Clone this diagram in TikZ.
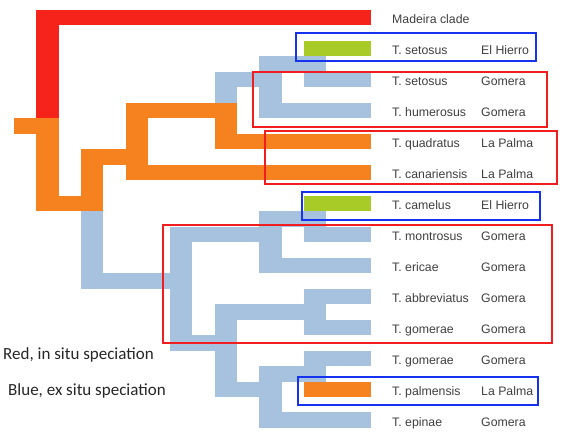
\documentclass[tikz,border=0pt]{standalone}
\usepackage{fontspec}
\setmainfont{Liberation Sans}
\newfontfamily\calfont{Carlito}
\definecolor{cRed}{RGB}{245,35,25}
\definecolor{cOrange}{RGB}{245,130,30}
\definecolor{cBlue}{RGB}{166,194,222}
\definecolor{cGreen}{RGB}{168,203,40}
\definecolor{bRed}{RGB}{240,30,30}
\definecolor{bBlue}{RGB}{20,50,240}
\tikzset{
  redbar/.style={fill=cRed},
  orangebar/.style={fill=cOrange},
  bluebar/.style={fill=cBlue},
  greenbar/.style={fill=cGreen},
  redbox/.style={draw=bRed,line width=2pt},
  bluebox/.style={draw=bBlue,line width=2pt},
  sp/.style={anchor=base west,inner sep=0pt,font=\fontsize{12.3}{14}\selectfont,text=black!75},
  legend/.style={anchor=base west,inner sep=0pt,font=\calfont\fontsize{17}{20}\selectfont,text=black!85}
}
\begin{document}
\begin{tikzpicture}[x=1pt,y=-1pt]
\useasboundingbox[fill=white] (0,0) rectangle (562,438);
\begin{scope}[shift={(14pt,-10pt)},x=22.3pt,y=-15.48pt]
% blue upper clade
\fill[bluebar] (9,4) rectangle (10,6);
\fill[bluebar] (9,4) rectangle (11,5);
\fill[bluebar] (11,3) rectangle (12,7);
\fill[bluebar] (11,6) rectangle (16,7);
\fill[bluebar] (11,3) rectangle (14,4);
\fill[bluebar] (13,3) rectangle (14,5);
\fill[bluebar] (13,4) rectangle (16,5);
\fill[greenbar] (13,2) rectangle (16,3);
% blue lower clade
\fill[bluebar] (3,13) rectangle (4,18);
\fill[bluebar] (3,17) rectangle (8,18);
\fill[bluebar] (7,14) rectangle (8,22);
\fill[bluebar] (7,14) rectangle (12,15);
\fill[bluebar] (11,13) rectangle (12,17);
\fill[bluebar] (11,16) rectangle (16,17);
\fill[bluebar] (11,13) rectangle (14,14);
\fill[bluebar] (13,13) rectangle (14,15);
\fill[bluebar] (13,14) rectangle (16,15);
\fill[greenbar] (13,12) rectangle (16,13);
\fill[bluebar] (7,21) rectangle (10,22);
\fill[bluebar] (9,19) rectangle (10,25);
\fill[bluebar] (9,19) rectangle (14,20);
\fill[bluebar] (13,18) rectangle (14,21);
\fill[bluebar] (13,18) rectangle (16,19);
\fill[bluebar] (13,20) rectangle (16,21);
\fill[bluebar] (9,24) rectangle (12,25);
\fill[bluebar] (11,23) rectangle (12,27);
\fill[bluebar] (11,26) rectangle (16,27);
\fill[bluebar] (11,23) rectangle (14,24);
\fill[bluebar] (13,22) rectangle (14,24);
\fill[bluebar] (13,22) rectangle (16,23);
\fill[orangebar] (13,24) rectangle (16,25);
% orange
\fill[orangebar] (0,7) rectangle (1,8);
\fill[orangebar] (1,7) rectangle (2,13);
\fill[orangebar] (1,12) rectangle (4,13);
\fill[orangebar] (3,9) rectangle (4,13);
\fill[orangebar] (3,9) rectangle (6,10);
\fill[orangebar] (5,6) rectangle (6,11);
\fill[orangebar] (5,10) rectangle (16,11);
\fill[orangebar] (5,6) rectangle (10,7);
\fill[orangebar] (9,6) rectangle (10,9);
\fill[orangebar] (9,8) rectangle (16,9);
% red
\fill[redbar] (1,0) rectangle (16,1);
\fill[redbar] (1,0) rectangle (2,7);
\end{scope}
% boxes
\draw[bluebox] (296,33) rectangle (536,61);
\draw[redbox] (253,72) rectangle (547,127);
\draw[redbox] (265,131) rectangle (557,184);
\draw[bluebox] (302,192) rectangle (540,220);
\draw[redbox] (163,225) rectangle (552,343);
\draw[bluebox] (298,377) rectangle (538,405);
% labels
\node[sp] (n0) at (392,23.7) {Madeira clade};
\node[sp] (n1) at (392,54.7) {T. setosus};
\node[sp] (i1) at (481,54.7) {El Hierro};
\node[sp] (n2) at (392,85.6) {T. setosus};
\node[sp] (i2) at (481,85.6) {Gomera};
\node[sp] (n3) at (392,116.6) {T. humerosus};
\node[sp] (i3) at (481,116.6) {Gomera};
\node[sp] (n4) at (392,147.6) {T. quadratus};
\node[sp] (i4) at (481,147.6) {La Palma};
\node[sp] (n5) at (392,178.5) {T. canariensis};
\node[sp] (i5) at (481,178.5) {La Palma};
\node[sp] (n6) at (392,209.5) {T. camelus};
\node[sp] (i6) at (481,209.5) {El Hierro};
\node[sp] (n7) at (392,240.5) {T. montrosus};
\node[sp] (i7) at (481,240.5) {Gomera};
\node[sp] (n8) at (392,271.4) {T. ericae};
\node[sp] (i8) at (481,271.4) {Gomera};
\node[sp] (n9) at (392,302.4) {T. abbreviatus};
\node[sp] (i9) at (481,302.4) {Gomera};
\node[sp] (n10) at (392,333.3) {T. gomerae};
\node[sp] (i10) at (481,333.3) {Gomera};
\node[sp] (n11) at (392,364.3) {T. gomerae};
\node[sp] (i11) at (481,364.3) {Gomera};
\node[sp] (n12) at (392,395.3) {T. palmensis};
\node[sp] (i12) at (481,395.3) {La Palma};
\node[sp] (n13) at (392,426.2) {T. epinae};
\node[sp] (i13) at (481,426.2) {Gomera};
\node[legend] (l1) at (3,359) {Red, in situ speciation};
\node[legend] (l2) at (8,395) {Blue, ex situ speciation};
\end{tikzpicture}
\end{document}
